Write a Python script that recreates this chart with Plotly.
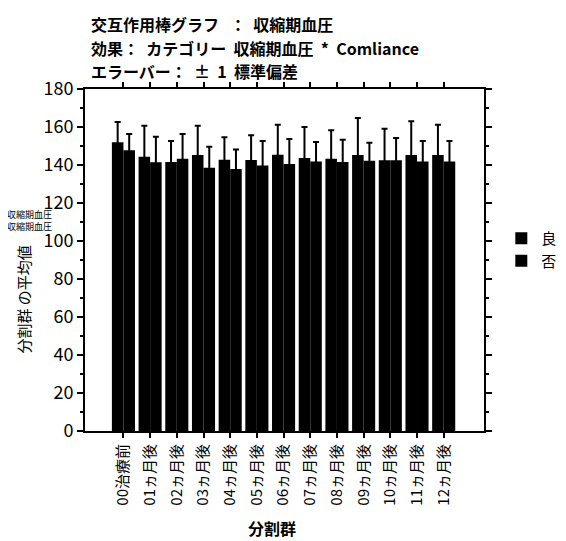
import plotly.graph_objects as go

categories = ["00治療前", "01ヵ月後", "02ヵ月後", "03ヵ月後", "04ヵ月後", "05ヵ月後", "06ヵ月後",
              "07ヵ月後", "08ヵ月後", "09ヵ月後", "10ヵ月後", "11ヵ月後", "12ヵ月後"]
good_mean = [152.0, 144.4, 141.6, 145.3, 142.8, 142.6, 145.4, 143.7, 143.3, 145.3, 142.5, 145.3, 145.3]
good_sd = [10.6, 16.3, 11.0, 15.4, 11.8, 13.0, 15.8, 16.3, 15.0, 19.4, 16.6, 17.7, 15.9]
bad_mean = [147.7, 141.4, 143.3, 138.6, 137.9, 139.8, 140.5, 141.9, 141.6, 142.3, 142.5, 141.9, 141.9]
bad_sd = [8.6, 13.5, 13.0, 11.0, 10.2, 12.8, 13.2, 10.2, 11.7, 9.4, 11.7, 10.7, 10.7]
series_names = ["良", "否"]
y_ticks = [0, 20, 40, 60, 80, 100, 120, 140, 160, 180]

CJK = "Noto Sans CJK JP"
NUM = "Liberation Sans Narrow, Noto Sans CJK JP"

x_pos = list(range(len(categories)))

fig = go.Figure()
for name, mean, sd in [(series_names[0], good_mean, good_sd), (series_names[1], bad_mean, bad_sd)]:
    fig.add_trace(go.Bar(
        x=x_pos, y=mean, name=name,
        marker=dict(color="black", line=dict(color="black", width=0)),
        error_y=dict(type="data", array=sd, symmetric=True, color="black", thickness=2, width=3),
    ))

W, H = 566, 541
L, R, T, B = 77, 74, 81, 118
pw = W - L - R
ph = H - T - B

def px_x(px):
    return (px - L) / pw

def px_y(py):
    return (H - B - py) / ph

fig.update_layout(
    width=W, height=H,
    margin=dict(l=L, r=R, t=T, b=B, pad=0),
    paper_bgcolor="white", plot_bgcolor="white",
    barmode="group", bargap=0.135, bargroupgap=0.0,
    showlegend=True,
    legend=dict(x=px_x(510), y=px_y(214), xanchor="left", yanchor="top",
                font=dict(family=CJK, size=15, color="black"),
                bgcolor="rgba(0,0,0,0)", itemwidth=30, tracegroupgap=6),
    font=dict(family=CJK, color="black"),
)

fig.update_xaxes(
    range=[-1.44, 13.51], tickmode="array", tickvals=x_pos, ticktext=categories,
    tickangle=-90, tickfont=dict(family=CJK, size=15, color="black"),
    showline=True, linecolor="black", linewidth=2, mirror="ticks",
    ticks="outside", ticklen=5, tickwidth=1.5, tickcolor="black",
    showgrid=False, zeroline=False,
)
fig.update_yaxes(
    range=[0, 180], tickmode="array", tickvals=y_ticks,
    tickfont=dict(family=NUM, size=18, color="black"),
    showline=True, linecolor="black", linewidth=2, mirror="ticks",
    ticks="outside", ticklen=6, tickwidth=1.5, tickcolor="black",
    minor=dict(ticks="outside", ticklen=3, dtick=10, tickwidth=1.5, tickcolor="black"),
    showgrid=False, zeroline=False,
)

title_lines = ["交互作用棒グラフ   ：  収縮期血圧",
               "効果：  カテゴリー  収縮期血圧  *  Comliance",
               "エラーバー：  ±  1  標準偏差"]
for i, t in enumerate(title_lines):
    fig.add_annotation(text="<b>" + t + "</b>", xref="paper", yref="paper",
                       x=px_x(81), y=px_y(16 + 23.5 * i), xanchor="left", yanchor="middle",
                       showarrow=False, font=dict(family=CJK, size=16, color="black"))

# y-axis title
fig.add_annotation(text="分割群 の平均値", xref="paper", yref="paper",
                   x=px_x(12), y=px_y(292), textangle=-90, xanchor="center", yanchor="middle",
                   showarrow=False, font=dict(family=CJK, size=15, color="black"))
fig.add_annotation(text="収縮期血圧<br>収縮期血圧", xref="paper", yref="paper",
                   x=px_x(45), y=px_y(212), xanchor="right", yanchor="middle", align="right",
                   showarrow=False, font=dict(family=CJK, size=9, color="black"))

# x-axis title
fig.add_annotation(text="<b>分割群</b>", xref="paper", yref="paper",
                   x=px_x(272), y=px_y(520), xanchor="center", yanchor="middle",
                   showarrow=False, font=dict(family=CJK, size=16, color="black"))

fig.write_html("out.html")
